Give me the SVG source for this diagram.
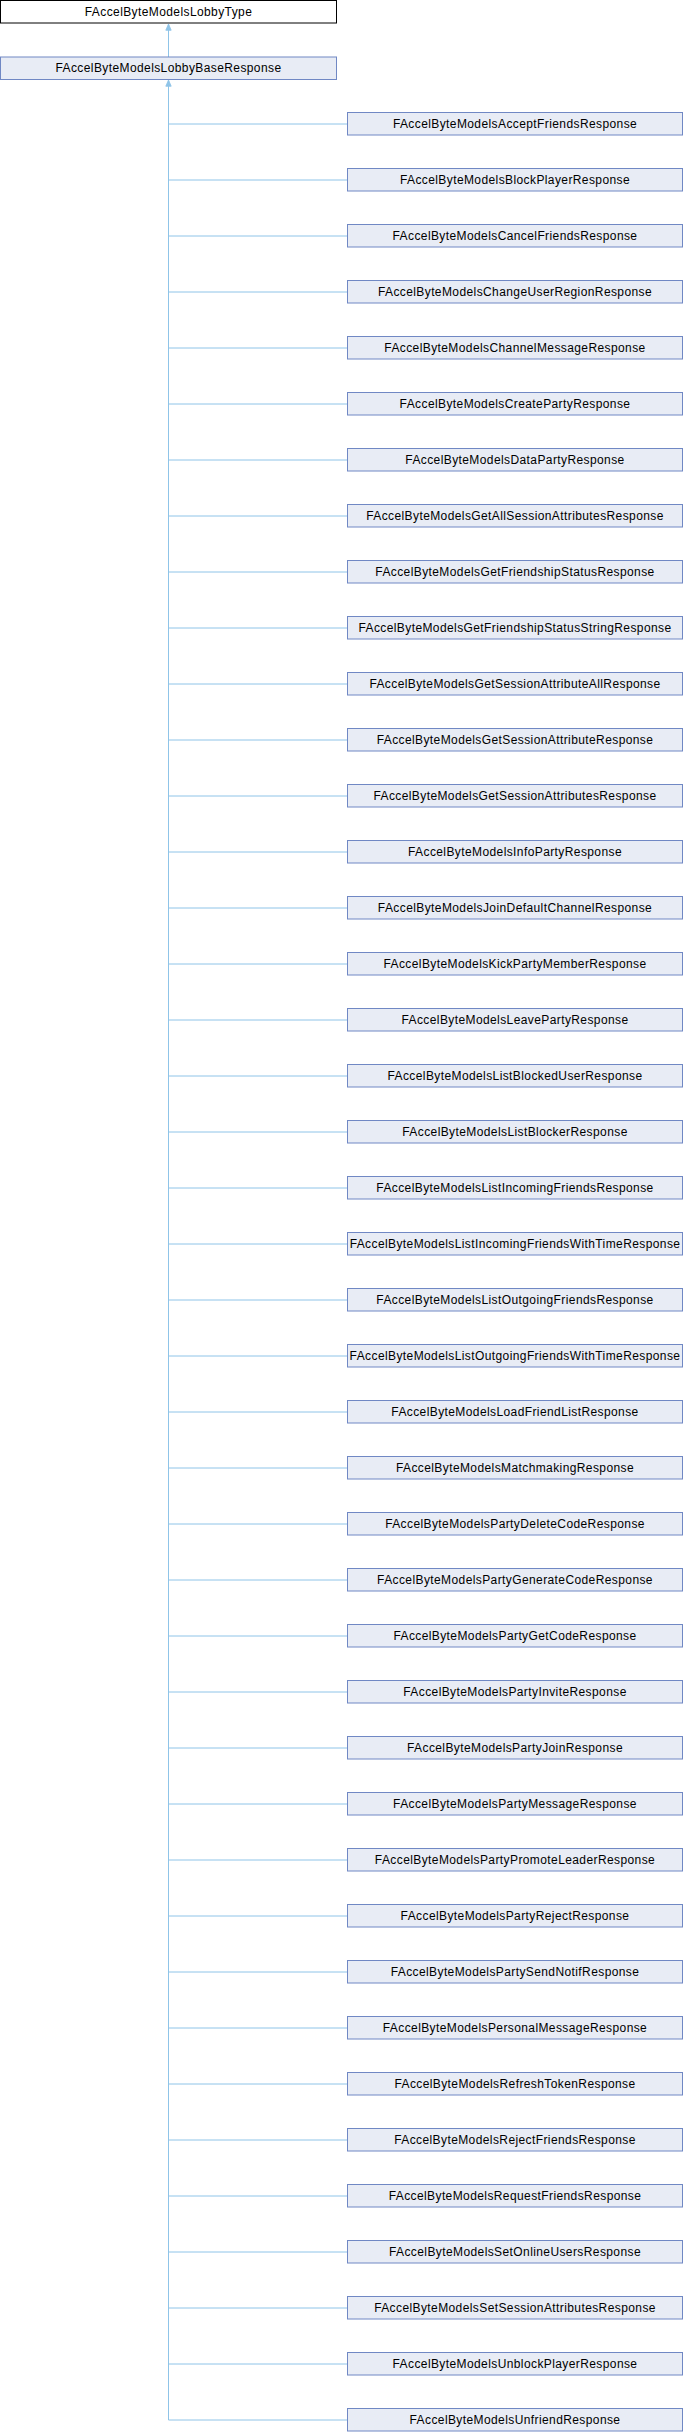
<svg xmlns="http://www.w3.org/2000/svg" width="684" height="2432" viewBox="0 0 684 2432">
<style>
.n{fill:#e8ecf5;stroke:#7088c4;stroke-width:1}
.t{font-family:"Liberation Sans",Arial,sans-serif;font-size:12px;letter-spacing:0.4px;fill:#000;text-anchor:middle}
.e{stroke:#8fc4e8;stroke-width:1;fill:none}
</style>
<defs>
<marker id="a" markerWidth="8" markerHeight="8" refX="4" refY="0" orient="0" markerUnits="userSpaceOnUse" viewBox="0 -1 8 9">
<path d="M1,7 L4,0 L7,7 Z" fill="#8fc4e8" stroke="#8fc4e8"/>
</marker>
</defs>
<rect width="684" height="2432" fill="#fff"/>
<g id="connectors">
<path class="e" d="M168.5,57 V24" marker-end="url(#a)"/>
<path class="e" d="M168.5,2420 V80" marker-end="url(#a)"/>
<path class="e" d="M168.5,124 H347 M168.5,180 H347 M168.5,236 H347 M168.5,292 H347 M168.5,348 H347 M168.5,404 H347 M168.5,460 H347 M168.5,516 H347 M168.5,572 H347 M168.5,628 H347 M168.5,684 H347 M168.5,740 H347 M168.5,796 H347 M168.5,852 H347 M168.5,908 H347 M168.5,964 H347 M168.5,1020 H347 M168.5,1076 H347 M168.5,1132 H347 M168.5,1188 H347 M168.5,1244 H347 M168.5,1300 H347 M168.5,1356 H347 M168.5,1412 H347 M168.5,1468 H347 M168.5,1524 H347 M168.5,1580 H347 M168.5,1636 H347 M168.5,1692 H347 M168.5,1748 H347 M168.5,1804 H347 M168.5,1860 H347 M168.5,1916 H347 M168.5,1972 H347 M168.5,2028 H347 M168.5,2084 H347 M168.5,2140 H347 M168.5,2196 H347 M168.5,2252 H347 M168.5,2308 H347 M168.5,2364 H347 M168.5,2420 H347"/>
</g>
<g id="n_lobbytype"><rect x="0.5" y="0.5" width="336" height="22.5" fill="#fff" stroke="#000"/><text class="t" x="168.5" y="16">FAccelByteModelsLobbyType</text></g>
<g id="n_base"><rect class="n" x="0.5" y="57" width="336" height="22.5"/><text class="t" x="168.5" y="71.5">FAccelByteModelsLobbyBaseResponse</text></g>
<g id="c1"><rect class="n" x="347.5" y="112.5" width="335" height="22.5"/><text class="t" x="515" y="127.5">FAccelByteModelsAcceptFriendsResponse</text></g>
<g id="c2"><rect class="n" x="347.5" y="168.5" width="335" height="22.5"/><text class="t" x="515" y="183.5">FAccelByteModelsBlockPlayerResponse</text></g>
<g id="c3"><rect class="n" x="347.5" y="224.5" width="335" height="22.5"/><text class="t" x="515" y="239.5">FAccelByteModelsCancelFriendsResponse</text></g>
<g id="c4"><rect class="n" x="347.5" y="280.5" width="335" height="22.5"/><text class="t" x="515" y="295.5">FAccelByteModelsChangeUserRegionResponse</text></g>
<g id="c5"><rect class="n" x="347.5" y="336.5" width="335" height="22.5"/><text class="t" x="515" y="351.5">FAccelByteModelsChannelMessageResponse</text></g>
<g id="c6"><rect class="n" x="347.5" y="392.5" width="335" height="22.5"/><text class="t" x="515" y="407.5">FAccelByteModelsCreatePartyResponse</text></g>
<g id="c7"><rect class="n" x="347.5" y="448.5" width="335" height="22.5"/><text class="t" x="515" y="463.5">FAccelByteModelsDataPartyResponse</text></g>
<g id="c8"><rect class="n" x="347.5" y="504.5" width="335" height="22.5"/><text class="t" x="515" y="519.5">FAccelByteModelsGetAllSessionAttributesResponse</text></g>
<g id="c9"><rect class="n" x="347.5" y="560.5" width="335" height="22.5"/><text class="t" x="515" y="575.5">FAccelByteModelsGetFriendshipStatusResponse</text></g>
<g id="c10"><rect class="n" x="347.5" y="616.5" width="335" height="22.5"/><text class="t" x="515" y="631.5">FAccelByteModelsGetFriendshipStatusStringResponse</text></g>
<g id="c11"><rect class="n" x="347.5" y="672.5" width="335" height="22.5"/><text class="t" x="515" y="687.5">FAccelByteModelsGetSessionAttributeAllResponse</text></g>
<g id="c12"><rect class="n" x="347.5" y="728.5" width="335" height="22.5"/><text class="t" x="515" y="743.5">FAccelByteModelsGetSessionAttributeResponse</text></g>
<g id="c13"><rect class="n" x="347.5" y="784.5" width="335" height="22.5"/><text class="t" x="515" y="799.5">FAccelByteModelsGetSessionAttributesResponse</text></g>
<g id="c14"><rect class="n" x="347.5" y="840.5" width="335" height="22.5"/><text class="t" x="515" y="855.5">FAccelByteModelsInfoPartyResponse</text></g>
<g id="c15"><rect class="n" x="347.5" y="896.5" width="335" height="22.5"/><text class="t" x="515" y="911.5">FAccelByteModelsJoinDefaultChannelResponse</text></g>
<g id="c16"><rect class="n" x="347.5" y="952.5" width="335" height="22.5"/><text class="t" x="515" y="967.5">FAccelByteModelsKickPartyMemberResponse</text></g>
<g id="c17"><rect class="n" x="347.5" y="1008.5" width="335" height="22.5"/><text class="t" x="515" y="1023.5">FAccelByteModelsLeavePartyResponse</text></g>
<g id="c18"><rect class="n" x="347.5" y="1064.5" width="335" height="22.5"/><text class="t" x="515" y="1079.5">FAccelByteModelsListBlockedUserResponse</text></g>
<g id="c19"><rect class="n" x="347.5" y="1120.5" width="335" height="22.5"/><text class="t" x="515" y="1135.5">FAccelByteModelsListBlockerResponse</text></g>
<g id="c20"><rect class="n" x="347.5" y="1176.5" width="335" height="22.5"/><text class="t" x="515" y="1191.5">FAccelByteModelsListIncomingFriendsResponse</text></g>
<g id="c21"><rect class="n" x="347.5" y="1232.5" width="335" height="22.5"/><text class="t" x="515" y="1247.5">FAccelByteModelsListIncomingFriendsWithTimeResponse</text></g>
<g id="c22"><rect class="n" x="347.5" y="1288.5" width="335" height="22.5"/><text class="t" x="515" y="1303.5">FAccelByteModelsListOutgoingFriendsResponse</text></g>
<g id="c23"><rect class="n" x="347.5" y="1344.5" width="335" height="22.5"/><text class="t" x="515" y="1359.5">FAccelByteModelsListOutgoingFriendsWithTimeResponse</text></g>
<g id="c24"><rect class="n" x="347.5" y="1400.5" width="335" height="22.5"/><text class="t" x="515" y="1415.5">FAccelByteModelsLoadFriendListResponse</text></g>
<g id="c25"><rect class="n" x="347.5" y="1456.5" width="335" height="22.5"/><text class="t" x="515" y="1471.5">FAccelByteModelsMatchmakingResponse</text></g>
<g id="c26"><rect class="n" x="347.5" y="1512.5" width="335" height="22.5"/><text class="t" x="515" y="1527.5">FAccelByteModelsPartyDeleteCodeResponse</text></g>
<g id="c27"><rect class="n" x="347.5" y="1568.5" width="335" height="22.5"/><text class="t" x="515" y="1583.5">FAccelByteModelsPartyGenerateCodeResponse</text></g>
<g id="c28"><rect class="n" x="347.5" y="1624.5" width="335" height="22.5"/><text class="t" x="515" y="1639.5">FAccelByteModelsPartyGetCodeResponse</text></g>
<g id="c29"><rect class="n" x="347.5" y="1680.5" width="335" height="22.5"/><text class="t" x="515" y="1695.5">FAccelByteModelsPartyInviteResponse</text></g>
<g id="c30"><rect class="n" x="347.5" y="1736.5" width="335" height="22.5"/><text class="t" x="515" y="1751.5">FAccelByteModelsPartyJoinResponse</text></g>
<g id="c31"><rect class="n" x="347.5" y="1792.5" width="335" height="22.5"/><text class="t" x="515" y="1807.5">FAccelByteModelsPartyMessageResponse</text></g>
<g id="c32"><rect class="n" x="347.5" y="1848.5" width="335" height="22.5"/><text class="t" x="515" y="1863.5">FAccelByteModelsPartyPromoteLeaderResponse</text></g>
<g id="c33"><rect class="n" x="347.5" y="1904.5" width="335" height="22.5"/><text class="t" x="515" y="1919.5">FAccelByteModelsPartyRejectResponse</text></g>
<g id="c34"><rect class="n" x="347.5" y="1960.5" width="335" height="22.5"/><text class="t" x="515" y="1975.5">FAccelByteModelsPartySendNotifResponse</text></g>
<g id="c35"><rect class="n" x="347.5" y="2016.5" width="335" height="22.5"/><text class="t" x="515" y="2031.5">FAccelByteModelsPersonalMessageResponse</text></g>
<g id="c36"><rect class="n" x="347.5" y="2072.5" width="335" height="22.5"/><text class="t" x="515" y="2087.5">FAccelByteModelsRefreshTokenResponse</text></g>
<g id="c37"><rect class="n" x="347.5" y="2128.5" width="335" height="22.5"/><text class="t" x="515" y="2143.5">FAccelByteModelsRejectFriendsResponse</text></g>
<g id="c38"><rect class="n" x="347.5" y="2184.5" width="335" height="22.5"/><text class="t" x="515" y="2199.5">FAccelByteModelsRequestFriendsResponse</text></g>
<g id="c39"><rect class="n" x="347.5" y="2240.5" width="335" height="22.5"/><text class="t" x="515" y="2255.5">FAccelByteModelsSetOnlineUsersResponse</text></g>
<g id="c40"><rect class="n" x="347.5" y="2296.5" width="335" height="22.5"/><text class="t" x="515" y="2311.5">FAccelByteModelsSetSessionAttributesResponse</text></g>
<g id="c41"><rect class="n" x="347.5" y="2352.5" width="335" height="22.5"/><text class="t" x="515" y="2367.5">FAccelByteModelsUnblockPlayerResponse</text></g>
<g id="c42"><rect class="n" x="347.5" y="2408.5" width="335" height="22.5"/><text class="t" x="515" y="2423.5">FAccelByteModelsUnfriendResponse</text></g>
</svg>
